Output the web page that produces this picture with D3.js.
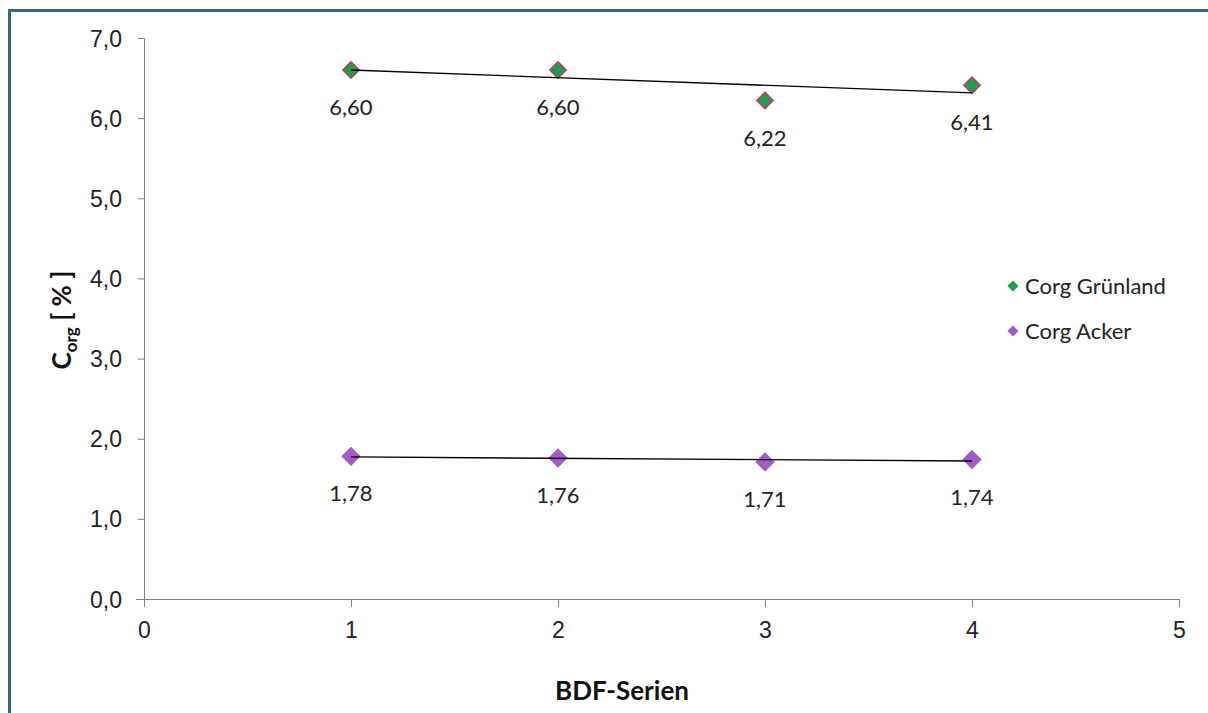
<!DOCTYPE html>
<html>
<head>
<meta charset="utf-8">
<script src="https://cdn.jsdelivr.net/npm/d3@7"></script>
<style>
  body { margin: 0; background: #fff; }
  svg { display: block; font-family: Lato, "Open Sans", sans-serif; }
  .axis path, .axis line { stroke: #7f7f7f; }
  .axis text { font-size: 23px; fill: #222; }
</style>
</head>
<body>
<div id="chart"></div>
<script>
// data
var series = [1, 2, 3, 4];
var gruenland = [6.60, 6.60, 6.22, 6.41];
var acker = [1.78, 1.76, 1.71, 1.74];
var xTicks = [0, 1, 2, 3, 4, 5];
var yTicks = [0, 1, 2, 3, 4, 5, 6, 7];

var W = 1208, H = 713;
var margin = {top: 38, right: 29, bottom: 114, left: 144};
var width = W - margin.left - margin.right;
var height = H - margin.top - margin.bottom;

var svg = d3.select("#chart").append("svg")
  .attr("width", W).attr("height", H);

// frame (only top and left visible)
svg.append("path")
  .attr("d", "M9.5," + H + "V10.5H" + W)
  .attr("fill", "none")
  .attr("stroke", "#3b6479")
  .attr("stroke-width", 3);

var g = svg.append("g")
  .attr("transform", "translate(" + margin.left + "," + margin.top + ")");

var x = d3.scaleLinear().domain([0, 5]).range([0, width]);
var y = d3.scaleLinear().domain([0, 7]).range([height, 0]);

var fmt = function(v) { return d3.format(".1f")(v).replace(".", ","); };
var fmt2 = function(v) { return d3.format(".2f")(v).replace(".", ","); };

// y axis
var yAxis = g.append("g").attr("class", "axis")
  .call(d3.axisLeft(y).tickValues(yTicks).tickFormat(fmt).tickSize(6).tickSizeOuter(0).tickPadding(16));
yAxis.selectAll("text").attr("dy", "0.35em");

// x axis
var xAxis = g.append("g").attr("class", "axis")
  .attr("transform", "translate(0," + height + ")")
  .call(d3.axisBottom(x).tickValues(xTicks).tickFormat(d3.format("d")).tickSize(8).tickSizeOuter(0).tickPadding(15));
xAxis.select(".domain").attr("d", "M-8,0.5H" + width);

// linear trend (least squares) through each series
function trend(vals) {
  var mx = d3.mean(series), my = d3.mean(vals);
  var num = d3.sum(series, function(s, i) { return (s - mx) * (vals[i] - my); });
  var den = d3.sum(series, function(s) { return (s - mx) * (s - mx); });
  var b = num / den, a = my - b * mx;
  var x0 = series[0], x1 = series[series.length - 1];
  return [[x0, a + b * x0], [x1, a + b * x1]];
}

var line = d3.line().x(function(d) { return x(d[0]); }).y(function(d) { return y(d[1]); });

var groups = [
  {name: "Corg Grünland", vals: gruenland, fill: "#1f9e4f", stroke: "#c0395f", size: 170},
  {name: "Corg Acker", vals: acker, fill: "#a35cc4", stroke: "#a35cc4", size: 190}
];

groups.forEach(function(s) {
  var pts = series.map(function(v, i) { return {x: v, y: s.vals[i]}; });

  g.selectAll(null).data(pts).enter().append("path")
    .attr("d", d3.symbol().type(d3.symbolDiamond2).size(s.size))
    .attr("transform", function(d) { return "translate(" + x(d.x) + "," + y(d.y) + ")"; })
    .attr("fill", s.fill)
    .attr("stroke", s.stroke)
    .attr("stroke-width", 1.5);

  g.append("path")
    .attr("d", line(trend(s.vals)))
    .attr("fill", "none")
    .attr("stroke", "#000")
    .attr("stroke-width", 1.4);

  g.selectAll(null).data(pts).enter().append("text")
    .attr("x", function(d) { return x(d.x); })
    .attr("y", function(d) { return y(d.y) + 45; })
    .attr("text-anchor", "middle")
    .style("font-size", "22px")
    .style("fill", "#222")
    .text(function(d) { return fmt2(d.y); });
});

// legend
var legend = svg.append("g").attr("transform", "translate(1013,286)");
groups.forEach(function(s, i) {
  var row = legend.append("g").attr("transform", "translate(0," + (i * 45) + ")");
  row.append("path")
    .attr("d", d3.symbol().type(d3.symbolDiamond2).size(80))
    .attr("fill", s.fill);
  row.append("text")
    .attr("x", 12).attr("dy", "0.35em")
    .style("font-size", "22px")
    .style("fill", "#222")
    .text(s.name);
});

// axis titles
svg.append("text")
  .attr("x", 622).attr("y", 700)
  .attr("text-anchor", "middle")
  .style("font-size", "26px").style("font-weight", "bold").style("fill", "#111")
  .text("BDF-Serien");

var yt = svg.append("text")
  .attr("transform", "translate(71,320) rotate(-90)")
  .attr("text-anchor", "middle")
  .attr("xml:space", "preserve")
  .style("font-size", "26px").style("font-weight", "bold").style("fill", "#111");
yt.append("tspan").text("C");
yt.append("tspan").attr("dy", 6).style("font-size", "17px").text("org");
yt.append("tspan").attr("dy", -6).text(" [ % ]");
</script>
</body>
</html>
